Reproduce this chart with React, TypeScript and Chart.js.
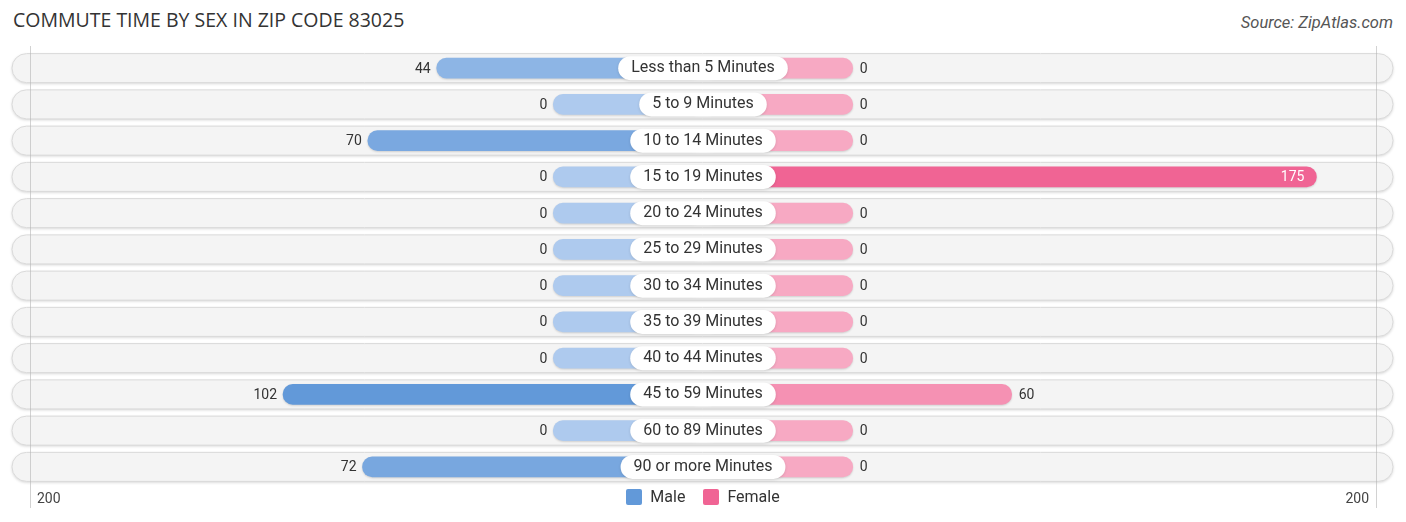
import { useEffect, useRef } from "react";
import { Chart, registerables, type ChartConfiguration, type Plugin } from "chart.js";

Chart.register(...registerables);

const categories = [
  "Less than 5 Minutes",
  "5 to 9 Minutes",
  "10 to 14 Minutes",
  "15 to 19 Minutes",
  "20 to 24 Minutes",
  "25 to 29 Minutes",
  "30 to 34 Minutes",
  "35 to 39 Minutes",
  "40 to 44 Minutes",
  "45 to 59 Minutes",
  "60 to 89 Minutes",
  "90 or more Minutes",
];
const maleValues = [44, 0, 70, 0, 0, 0, 0, 0, 0, 102, 0, 72];
const femaleValues = [0, 0, 0, 175, 0, 0, 0, 0, 0, 60, 0, 0];
const axisTickLabels = ["200", "200"];

// units hidden under the centre label, and the half-width of the x scale
const STUB = 56.5;
const X_LIMIT = 254;

const MALE_LIGHT = [174, 202, 238];
const MALE_DARK = [98, 153, 217];
const FEMALE_LIGHT = [247, 169, 195];
const FEMALE_DARK = [240, 100, 148];

const mix = (a: number[], b: number[], t: number) =>
  `rgb(${a.map((c, i) => Math.round(c + (b[i] - c) * t)).join(",")})`;

const shade = (values: number[], light: number[], dark: number[]) => {
  const max = Math.max(...values) || 1;
  return values.map((v) => mix(light, dark, v / max));
};

function pill(ctx: CanvasRenderingContext2D, x: number, y: number, w: number, h: number) {
  const r = h / 2;
  ctx.beginPath();
  ctx.moveTo(x + r, y);
  ctx.lineTo(x + w - r, y);
  ctx.arc(x + w - r, y + r, r, -Math.PI / 2, Math.PI / 2);
  ctx.lineTo(x + r, y + h);
  ctx.arc(x + r, y + r, r, Math.PI / 2, (3 * Math.PI) / 2);
  ctx.closePath();
}

const decorPlugin: Plugin<"bar"> = {
  id: "decor",
  beforeDatasetsDraw(chart) {
    const { ctx, chartArea, scales } = chart;
    const yScale = scales.y;
    ctx.save();
    categories.forEach((_, i) => {
      const cy = yScale.getPixelForValue(i);
      pill(ctx, chartArea.left - 18, cy - 14.5, chartArea.width + 35, 29);
      ctx.shadowColor = "rgba(0,0,0,0.18)";
      ctx.shadowBlur = 3;
      ctx.shadowOffsetY = 1;
      ctx.fillStyle = "#f4f4f4";
      ctx.fill();
      ctx.shadowColor = "transparent";
      ctx.strokeStyle = "#dadada";
      ctx.lineWidth = 1;
      ctx.stroke();
    });
    ctx.strokeStyle = "rgba(180,180,180,0.6)";
    ctx.lineWidth = 1;
    [chartArea.left, chartArea.right].forEach((x) => {
      ctx.beginPath();
      ctx.moveTo(Math.round(x) + 0.5, chartArea.top - 4);
      ctx.lineTo(Math.round(x) + 0.5, chartArea.bottom + 23);
      ctx.stroke();
    });
    ctx.fillStyle = "#444";
    ctx.font = "14px Roboto";
    ctx.textBaseline = "middle";
    ctx.textAlign = "left";
    ctx.fillText(axisTickLabels[0], chartArea.left + 7, chartArea.bottom + 14);
    ctx.textAlign = "right";
    ctx.fillText(axisTickLabels[1], chartArea.right - 7, chartArea.bottom + 14);
    ctx.restore();

    ctx.save();
    ctx.shadowColor = "rgba(0,0,0,0.15)";
    ctx.shadowBlur = 2;
    ctx.shadowOffsetY = 1;
  },
  afterDatasetsDraw(chart) {
    const { ctx, scales } = chart;
    ctx.restore();
    const xScale = scales.x;
    const yScale = scales.y;
    const cx = xScale.getPixelForValue(0);
    ctx.save();
    ctx.textBaseline = "middle";
    categories.forEach((label, i) => {
      const cy = yScale.getPixelForValue(i);

      ctx.font = "14px Roboto";
      ctx.fillStyle = "#333";
      ctx.textAlign = "right";
      const mx = xScale.getPixelForValue(-(STUB + maleValues[i]));
      ctx.fillText(String(maleValues[i]), mx - 6, cy + 1);

      const fx = xScale.getPixelForValue(STUB + femaleValues[i]);
      if (femaleValues[i] > 140) {
        ctx.fillStyle = "#fff";
        ctx.textAlign = "right";
        ctx.fillText(String(femaleValues[i]), fx - 12, cy + 1);
      } else {
        ctx.fillStyle = "#333";
        ctx.textAlign = "left";
        ctx.fillText(String(femaleValues[i]), fx + 7, cy + 1);
      }

      ctx.font = "16px Roboto";
      const w = ctx.measureText(label).width + 26;
      ctx.save();
      ctx.shadowColor = "rgba(0,0,0,0.12)";
      ctx.shadowBlur = 3;
      ctx.shadowOffsetY = 1;
      pill(ctx, cx - w / 2, cy - 12, w, 24);
      ctx.fillStyle = "#fff";
      ctx.fill();
      ctx.restore();
      ctx.fillStyle = "#333";
      ctx.textAlign = "center";
      ctx.fillText(label, cx, cy);
    });
    ctx.restore();
  },
};

const maleColors = shade(maleValues, MALE_LIGHT, MALE_DARK);
const femaleColors = shade(femaleValues, FEMALE_LIGHT, FEMALE_DARK);

export default function App() {
  const canvasRef = useRef<HTMLCanvasElement>(null);
  const chartRef = useRef<Chart<"bar", [number, number][], string> | null>(null);

  useEffect(() => {
    const canvas = canvasRef.current;
    if (!canvas) {
      return;
    }
    chartRef.current?.destroy();

    const config: ChartConfiguration<"bar", [number, number][], string> = {
      type: "bar",
      data: {
        labels: categories,
        datasets: [
          {
            label: "Male",
            data: maleValues.map((v) => [-(STUB + v), 0]),
            backgroundColor: maleColors,
            borderRadius: 10,
            borderSkipped: false,
            barThickness: 20,
            grouped: false,
          },
          {
            label: "Female",
            data: femaleValues.map((v) => [0, STUB + v]),
            backgroundColor: femaleColors,
            borderRadius: 10,
            borderSkipped: false,
            barThickness: 20,
            grouped: false,
          },
        ],
      },
      options: {
        indexAxis: "y",
        responsive: true,
        maintainAspectRatio: false,
        animation: false,
        events: [],
        layout: {
          padding: { left: 30, right: 30, top: 50, bottom: 37 },
        },
        plugins: {
          legend: { display: false },
          tooltip: { enabled: false },
        },
        scales: {
          x: { type: "linear", min: -X_LIMIT, max: X_LIMIT, display: false },
          y: { type: "category", display: false },
        },
      },
      plugins: [decorPlugin],
    };

    chartRef.current = new Chart(canvas, config);

    return () => {
      chartRef.current?.destroy();
      chartRef.current = null;
    };
  }, []);

  return (
    <div
      style={{
        position: "absolute",
        left: 0,
        top: 0,
        width: 1406,
        height: 522,
        background: "#fff",
        fontFamily: "Roboto, sans-serif",
      }}
    >
      <div
        style={{
          position: "absolute",
          left: 13,
          top: 8,
          fontSize: 19.5,
          lineHeight: "24px",
          color: "#333",
          fontFamily: "'Open Sans', sans-serif",
        }}
      >
        COMMUTE TIME BY SEX IN ZIP CODE 83025
      </div>
      <div
        style={{
          position: "absolute",
          right: 13,
          top: 13,
          fontSize: 16.5,
          lineHeight: "20px",
          color: "#555",
          fontStyle: "italic",
        }}
      >
        Source: ZipAtlas.com
      </div>
      <div style={{ position: "absolute", left: 0, top: 0, width: 1406, height: 522 }}>
        <canvas ref={canvasRef} />
      </div>
      <div
        style={{
          position: "absolute",
          left: 0,
          top: 488,
          width: 1406,
          display: "flex",
          justifyContent: "center",
          gap: 18,
          fontSize: 16,
          lineHeight: "17px",
          color: "#333",
        }}
      >
        {[
          { label: "Male", color: "rgb(98,153,217)" },
          { label: "Female", color: "rgb(240,100,148)" },
        ].map((item) => (
          <div key={item.label} style={{ display: "flex", alignItems: "center", gap: 8 }}>
            <span
              style={{ width: 16, height: 16, borderRadius: 2, background: item.color, display: "inline-block" }}
            />
            <span>{item.label}</span>
          </div>
        ))}
      </div>
    </div>
  );
}
